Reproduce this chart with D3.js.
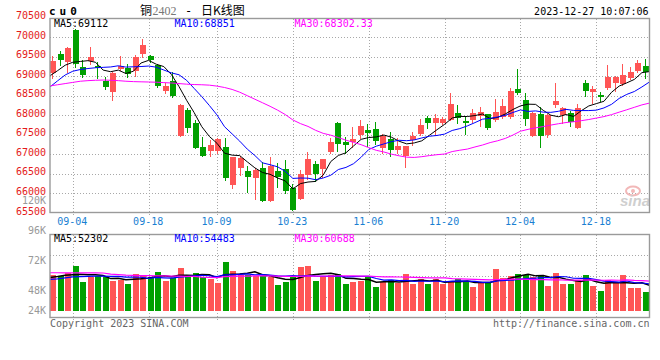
<!DOCTYPE html>
<html><head><meta charset="utf-8">
<script src="https://cdn.jsdelivr.net/npm/d3@7"></script>
<style>body{margin:0;background:#fff}svg{display:block}</style>
</head><body>
<svg id="chart" width="660" height="360"></svg>
<script>
const dates = ["08-30","08-31","09-01","09-04","09-05","09-06","09-07","09-08","09-11","09-12","09-13","09-14","09-15","09-18","09-19","09-20","09-21","09-22","09-25","09-26","09-27","09-28","10-09","10-10","10-11","10-12","10-13","10-16","10-17","10-18","10-19","10-20","10-23","10-24","10-25","10-26","10-27","10-30","10-31","11-01","11-02","11-03","11-06","11-07","11-08","11-09","11-10","11-13","11-14","11-15","11-16","11-17","11-20","11-21","11-22","11-23","11-24","11-27","11-28","11-29","11-30","12-01","12-04","12-05","12-06","12-07","12-08","12-11","12-12","12-13","12-14","12-15","12-18","12-19","12-20","12-21","12-22","12-25","12-26","12-27"];
const opens = [69080,69570,69370,70170,69225,69400,69270,68865,68585,69180,
69215,69140,69565,69505,69295,68630,68870,67480,68140,67800,
67200,67080,67080,67190,66220,66640,66580,66385,66660,65810,
66580,66630,66150,65870,66480,66760,66630,67070,67810,67310,
67310,67500,67610,67660,67160,67380,67100,66970,67360,67510,
67920,67800,67800,67880,68050,67855,67880,67985,68025,67880,
67965,67965,68665,68390,67475,68025,67490,68255,68000,68070,
67685,68815,68595,68520,68690,68835,68790,68945,69130,69260];
const closes = [69395,69420,69725,69300,69040,69495,69210,68730,69090,69250,
69060,69500,69785,69425,68755,68760,68480,68250,67670,67170,
66970,67230,67380,66400,66920,66910,66430,66610,65810,66690,
66430,66070,65580,66490,66890,66510,66870,67320,67270,67230,
67380,67720,67550,67350,67470,67100,67210,67210,67470,67740,
67810,67920,67900,68280,67940,67795,68050,68095,67685,68095,
68240,68620,68560,67900,68070,67475,68000,68365,68180,67830,
68195,68620,68665,68475,68985,68985,69030,69105,69345,69115];
const highs = [69525,69650,69740,70210,69420,69750,69350,68975,69110,69520,
69300,69530,69940,69540,69320,68830,69110,68290,68190,67890,
67450,67360,67430,67420,66930,66970,66700,66660,66800,66930,
66780,66850,66250,66610,67070,66830,66880,67410,67830,67440,
67700,67870,67780,67820,67510,67560,67420,67220,67570,67900,
67990,68030,67960,68560,68255,67985,68155,68220,68030,68410,
68410,68705,69175,68560,68085,68220,68025,68815,68220,68110,
68300,68895,68750,68605,69275,69005,69320,69245,69405,69430];
const lows = [68965,69275,69110,69240,68980,69300,68940,68660,68400,69165,
68985,69000,69480,69370,68730,68570,68470,67470,67560,67150,
66960,66960,67030,66350,66150,66470,66030,65850,65800,65800,
66160,66020,65570,65860,66360,66310,66420,67040,67080,67040,
67180,67420,67210,67270,67040,66960,67030,66670,67250,67500,
67680,67490,67780,67870,67795,67515,67815,67730,67645,67855,
67940,67940,68535,67745,67470,67200,67455,68220,67795,67730,
67680,68495,68305,68365,68665,68620,68765,68920,69115,68960];
const volumes = [72760,70720,77520,91120,59160,69360,70720,68000,60520,62560,
54400,74800,72760,68000,78880,61200,65960,87720,68000,77520,
69360,63920,57120,99960,80920,72760,72760,70720,70720,69360,
52360,59160,68000,89760,91120,60520,68000,72760,74800,54400,
59160,61200,68000,47600,59160,62560,55760,74800,54400,63920,
54400,63920,54400,59160,63920,61200,48960,55760,59160,85000,
67320,71400,74800,72760,69360,70720,50320,77520,54400,54400,
62560,72760,50320,40120,62560,59160,72760,45560,45560,37400];
// moving-average values for the first days (window not yet filled)
const ma5Head = [69010,69140,69280,69355];
const ma10Head = [68725,68880,69030,69125,69170,69195,69215,69225,69235];
const ma30Head = [68750,68780,68810,68840,68870,68885,68895,68900,68895,68885,68870,68860,68855,68850,68845,68835,68825,68810,68795,68785,68780,68770,68745,68710,68660,68590,68500,68410,68320];
const vma5Head = [68000,70000,72500,73500];
const vma10Head = [64000,65000,67000,69000,69500,70000,70500,70500,70000];
const vma30Head = [77500,77500,77400,77400,77300,77200,77100,77000,74500,73500,72500,72000,71800,71500,71300,71000,70800,70500,70200,70000,68500,68000,67500,69500,70000,70500,70800,71000,71200];
const tickDates = ["09-04","09-18","10-09","10-23","11-06","11-20","12-04","12-18"];
const priceTicks = [70500,70000,69500,69000,68500,68000,67500,67000,66500,66000,65500];
const priceGrid = [70000,69500,69000,68500,68000,67500,67000,66500,66000];
const volTicks = [120000,96000,72000,48000,24000];
const priceLegend = ["MA5:69112","MA10:68851","MA30:68302.33"];
const volLegend = ["MA5:52302","MA10:54483","MA30:60688"];

const RED = "#ff5555", GREEN = "#00a000", GRID = "#a8a8a8", MONO = "'DejaVu Sans Mono', monospace";
const maColors = ["#000000","#0000ff","#ff00ff"];
const n = closes.length;
const idx = d3.range(n);

function movingAvg(vals, w, head) {
  return vals.map((v, i) => i < w - 1 ? head[i] : d3.mean(vals.slice(i - w + 1, i + 1)));
}

const svg = d3.select("#chart");
const xBand = d3.scaleBand().domain(idx).range([50, 650]);
const xPoint = d3.scalePoint().domain(idx).range([50, 649.5]);
const y = d3.scaleLinear().domain([65500, 70500]).range([213, 17.5]);
const yv = d3.scaleLinear().domain([0, 156000]).range([310.7, 234.3]);
const yvLabel = d3.scaleLinear().domain([24000, 48000, 120000]).range([310.3, 289.7, 200]);
const cx = i => Math.floor(xBand(i) + xBand.bandwidth() / 2);
const tickIdx = tickDates.map(d => dates.indexOf(d));

// frames
const P = {l: 50, r: 649.5, t: 18.5, b: 212.5};
const V = {l: 50, r: 649.5, t: 234.5, b: 317.5};

// horizontal grid (price)
svg.append("g").selectAll("line").data(priceGrid).join("line")
  .attr("x1", P.l).attr("x2", P.r)
  .attr("y1", d => Math.round(y(d)) + 0.5).attr("y2", d => Math.round(y(d)) + 0.5)
  .attr("stroke", GRID).attr("stroke-dasharray", "1,2").attr("shape-rendering", "crispEdges");
// horizontal grid (volume) at quarters of the panel
svg.append("g").selectAll("line").data([1, 2, 3]).join("line")
  .attr("x1", V.l).attr("x2", V.r)
  .attr("y1", d => Math.round(V.t + (V.b - V.t) * d / 4) + 0.5)
  .attr("y2", d => Math.round(V.t + (V.b - V.t) * d / 4) + 0.5)
  .attr("stroke", GRID).attr("stroke-dasharray", "1,2").attr("shape-rendering", "crispEdges");
// vertical grid
const vg = svg.append("g");
vg.selectAll("line.p").data(tickIdx).join("line").attr("class", "p")
  .attr("x1", d => Math.round(xPoint(d)) + 0.5).attr("x2", d => Math.round(xPoint(d)) + 0.5)
  .attr("y1", P.t).attr("y2", 216)
  .attr("stroke", GRID).attr("stroke-dasharray", "1,2").attr("shape-rendering", "crispEdges");
vg.selectAll("line.v").data(tickIdx).join("line").attr("class", "v")
  .attr("x1", d => Math.round(xPoint(d)) + 0.5).attr("x2", d => Math.round(xPoint(d)) + 0.5)
  .attr("y1", V.t).attr("y2", 320)
  .attr("stroke", GRID).attr("stroke-dasharray", "1,2").attr("shape-rendering", "crispEdges");

// watermark
const wm = svg.append("g");
wm.append("ellipse").attr("cx", 633).attr("cy", 191).attr("rx", 7).attr("ry", 4.5)
  .attr("fill", "none").attr("stroke", "#f2b8b8").attr("stroke-width", 2);
wm.append("circle").attr("cx", 633).attr("cy", 191).attr("r", 2).attr("fill", "#f2b8b8");
wm.append("text").attr("x", 620).attr("y", 206).text("sina")
  .attr("font-family", "'Liberation Sans', Arial, sans-serif").attr("font-style", "italic")
  .attr("font-weight", "bold").attr("font-size", 15).attr("fill", "#cfcfcf");

// candles
const cg = svg.append("g");
cg.selectAll("line").data(idx).join("line")
  .attr("x1", i => cx(i) - 0.5).attr("x2", i => cx(i) - 0.5)
  .attr("y1", i => Math.round(y(highs[i]))).attr("y2", i => Math.round(y(lows[i])) + 1)
  .attr("stroke", i => closes[i] >= opens[i] ? RED : GREEN).attr("shape-rendering", "crispEdges");
cg.selectAll("rect").data(idx).join("rect")
  .attr("x", i => cx(i) - 3).attr("width", 6)
  .attr("y", i => Math.round(y(Math.max(opens[i], closes[i]))))
  .attr("height", i => Math.max(1, Math.round(y(Math.min(opens[i], closes[i]))) - Math.round(y(Math.max(opens[i], closes[i])))))
  .attr("fill", i => closes[i] >= opens[i] ? RED : GREEN).attr("shape-rendering", "crispEdges");

// price MAs
const pMAs = [movingAvg(closes, 5, ma5Head), movingAvg(closes, 10, ma10Head), movingAvg(closes, 30, ma30Head)];
const pLine = d3.line().x((d, i) => xPoint(i)).y(d => y(d));
svg.append("g").selectAll("path").data(pMAs).join("path")
  .attr("d", pLine).attr("fill", "none").attr("stroke", (d, k) => maColors[k]).attr("stroke-width", 1);

// volume bars
svg.append("g").selectAll("rect").data(idx).join("rect")
  .attr("x", i => cx(i) - 3).attr("width", 6)
  .attr("y", i => Math.round(yv(volumes[i])))
  .attr("height", i => Math.round(yv(0)) - Math.round(yv(volumes[i])))
  .attr("fill", i => closes[i] >= opens[i] ? RED : GREEN).attr("shape-rendering", "crispEdges");
const vMAs = [movingAvg(volumes, 5, vma5Head), movingAvg(volumes, 10, vma10Head), movingAvg(volumes, 30, vma30Head)];
const vLine = d3.line().x((d, i) => xPoint(i)).y(d => yv(d));
svg.append("g").selectAll("path").data(vMAs).join("path")
  .attr("d", vLine).attr("fill", "none").attr("stroke", (d, k) => maColors[k])
  .attr("stroke-width", (d, k) => k === 0 ? 1.5 : 1.2);

// frames
[P, V].forEach(f => svg.append("rect").attr("x", f.l).attr("y", f.t)
  .attr("width", f.r - f.l).attr("height", f.b - f.t)
  .attr("fill", "none").attr("stroke", "#9a9a9a").attr("stroke-width", 1.4));

// axes
const ax = svg.append("g").attr("transform", `translate(${P.l},0)`)
  .call(d3.axisLeft(y).tickValues(priceTicks).tickFormat(d3.format("d")).tickSize(0).tickPadding(4));
ax.select(".domain").remove();
ax.selectAll("text").attr("dy", "0.1em").attr("fill", "#e41a1a").attr("font-family", MONO).attr("font-size", 10);

const axv = svg.append("g").attr("transform", `translate(${P.l},0)`)
  .call(d3.axisLeft(yvLabel).tickValues(volTicks).tickFormat(d => d / 1000 + "K").tickSize(0).tickPadding(4));
axv.select(".domain").remove();
axv.selectAll("text").attr("dy", "0.35em").attr("fill", "#999").attr("font-family", MONO).attr("font-size", 10);

const axx = svg.append("g").attr("transform", "translate(-1,213)")
  .call(d3.axisBottom(xPoint).tickValues(tickIdx).tickFormat(i => dates[i]).tickSize(0).tickPadding(4.5));
axx.select(".domain").remove();
axx.selectAll("text").attr("fill", "#1a7fd2").attr("font-family", MONO).attr("font-size", 10);

// legends
const legX = [54, 174.5, 294.5];
svg.append("g").selectAll("text").data(priceLegend).join("text")
  .attr("x", (d, k) => legX[k]).attr("y", 27).text(d => d)
  .attr("fill", (d, k) => maColors[k]).attr("font-family", MONO).attr("font-size", 10);
svg.append("g").selectAll("text").data(volLegend).join("text")
  .attr("x", (d, k) => legX[k]).attr("y", 242).text(d => d)
  .attr("fill", (d, k) => maColors[k]).attr("font-family", MONO).attr("font-size", 10);

// header
svg.append("text").attr("x", 49).attr("y", 15).text("cu0")
  .attr("font-family", MONO).attr("font-weight", "bold").attr("font-size", 11)
  .attr("letter-spacing", 4).attr("fill", "#000");
const CJK = "'Noto Sans CJK SC', sans-serif";
svg.append("text").attr("x", 140).attr("y", 14.5).text("铜").attr("font-family", CJK).attr("font-size", 12).attr("fill", "#000");
svg.append("text").attr("x", 152.5).attr("y", 14.5).text("2402").attr("font-family", "'Liberation Serif', serif").attr("font-size", 12).attr("fill", "#777");
svg.append("text").attr("x", 185).attr("y", 14.5).text("-").attr("font-family", MONO).attr("font-size", 12).attr("fill", "#000");
svg.append("text").attr("x", 201).attr("y", 14.5).text("日K线图").attr("font-family", CJK).attr("font-size", 12).attr("fill", "#000");
svg.append("text").attr("x", 648.5).attr("y", 15).attr("text-anchor", "end").text("2023-12-27 10:07:06")
  .attr("font-family", MONO).attr("font-size", 10).attr("fill", "#000");

// footer
svg.append("text").attr("x", 50).attr("y", 327).text("Copyright 2023 SINA.COM")
  .attr("font-family", MONO).attr("font-size", 10).attr("fill", "#666");
svg.append("text").attr("x", 649.5).attr("y", 327).attr("text-anchor", "end").text("http://finance.sina.com.cn")
  .attr("font-family", MONO).attr("font-size", 10).attr("fill", "#666");
</script>
</body></html>
